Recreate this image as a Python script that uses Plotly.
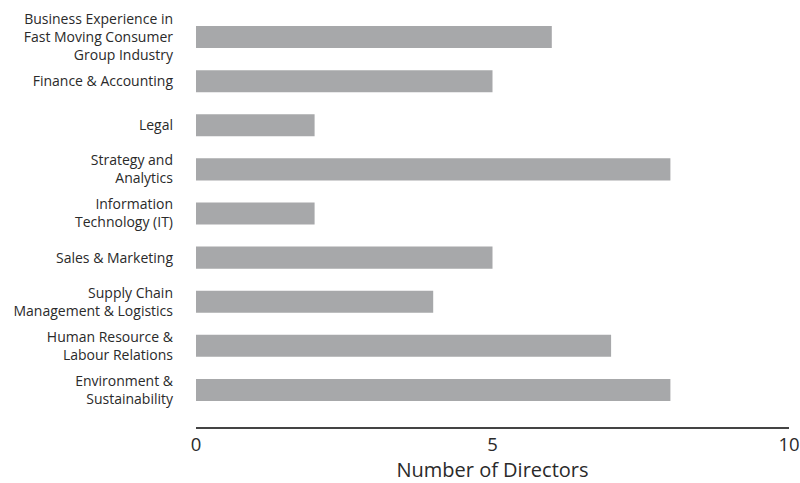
import plotly.graph_objects as go

categories = [
    "Business Experience in<br>Fast Moving Consumer<br>Group Industry",
    "Finance & Accounting",
    "Legal",
    "Strategy and<br>Analytics",
    "Information<br>Technology (IT)",
    "Sales & Marketing",
    "Supply Chain<br>Management & Logistics",
    "Human Resource &<br>Labour Relations",
    "Environment &<br>Sustainability",
]
values = [6, 5, 2, 8, 2, 5, 4, 7, 8]
x_ticks = [0, 5, 10]

fig = go.Figure(go.Bar(
    x=values, y=categories, orientation="h",
    marker=dict(color="#a7a8aa", line=dict(width=0)),
    width=0.5,
))

fig.update_layout(
    width=800, height=483,
    margin=dict(l=196, r=11, t=15, b=56),
    paper_bgcolor="white", plot_bgcolor="white",
    font=dict(family="Open Sans, sans-serif", color="#2a2a2a"),
    showlegend=False,
)
fig.update_xaxes(
    range=[0, 10], tickvals=x_ticks, ticktext=[str(v) for v in x_ticks],
    showgrid=False, zeroline=False, automargin=False,
    showline=True, linecolor="#444444", linewidth=1.5,
    ticks="", tickfont=dict(size=18.5, color="#2a2a2a"),
    ticklabeloverflow="allow",
    title=dict(text="Number of Directors", font=dict(size=20, color="#2a2a2a"), standoff=4),
)
fig.update_yaxes(
    type="category", categoryorder="array", categoryarray=categories,
    range=[8.84, -0.5], automargin=False,
    showgrid=False, zeroline=False, showline=False, ticks="",
    tickfont=dict(size=14, color="#2a2a2a"),
    ticklabelstandoff=22,
)

fig.write_html(
    "out.html",
    config={"displayModeBar": False},
    post_script="document.body.style.margin='0';document.body.style.overflow='hidden';",
)
